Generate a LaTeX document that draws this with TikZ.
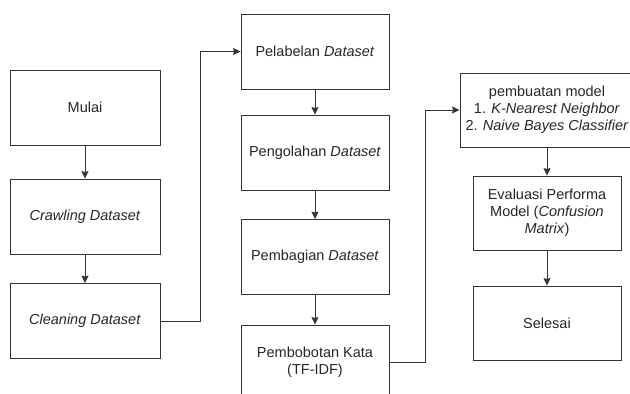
\documentclass[tikz,border=0pt]{standalone}
\usepackage{fontspec}
\setmainfont{Liberation Sans}
\usetikzlibrary{arrows.meta}

\tikzset{
  box/.style={draw=black!80, text=black!85, line width=0.9pt, minimum width=148pt,
    minimum height=75pt, align=center, inner sep=1pt, font=\fontsize{14.5}{17}\selectfont},
  arr/.style={draw=black!80, line width=0.9pt, -{Stealth[length=7.5pt, width=7pt, inset=1pt]}},
}

\begin{document}
\begin{tikzpicture}[x=1pt, y=-1pt]
  \useasboundingbox (0,0) rectangle (630,394);
  \clip (0,0) rectangle (630,394);

  \node[box, minimum width=150pt] (l1) at (85, 107.5) {Mulai};
  \node[box, minimum width=150pt] (l2) at (85, 216.5) {\textit{Crawling Dataset}};
  \node[box, minimum width=150pt] (l3) at (85, 321) {\textit{Cleaning Dataset}};

  \node[box] (m1) at (315, 51.5) {Pelabelan \textit{Dataset}};
  \node[box] (m2) at (315, 152.5) {Pengolahan \textit{Dataset}};
  \node[box] (m3) at (315, 257) {Pembagian \textit{Dataset}};
  \node[box] (m4) at (315, 362.5) {Pembobotan Kata\\(TF-IDF)};

  \node[box, minimum width=174pt, minimum height=74pt] (r1) at (547, 110)
    {pembuatan model\\1. \textit{K-Nearest Neighbor}\\2. \textit{Naive Bayes Classifier}};
  \node[box, minimum height=74pt] (r2) at (547, 213)
    {Evaluasi Performa\\Model (\textit{Confusion}\\\textit{Matrix})};
  \node[box, minimum height=74pt] (r3) at (547, 323) {Selesai};

  \draw[arr] (l1) -- (l2);
  \draw[arr] (l2) -- (l3);
  \draw[arr] (l3.east) -- ++(40,0) |- (m1.west);
  \draw[arr] (m1) -- (m2);
  \draw[arr] (m2) -- (m3);
  \draw[arr] (m3) -- (m4);
  \draw[arr] (m4.east) -- ++(36,0) |- (r1.west);
  \draw[arr] (r1) -- (r2);
  \draw[arr] (r2) -- (r3);
\end{tikzpicture}
\end{document}
